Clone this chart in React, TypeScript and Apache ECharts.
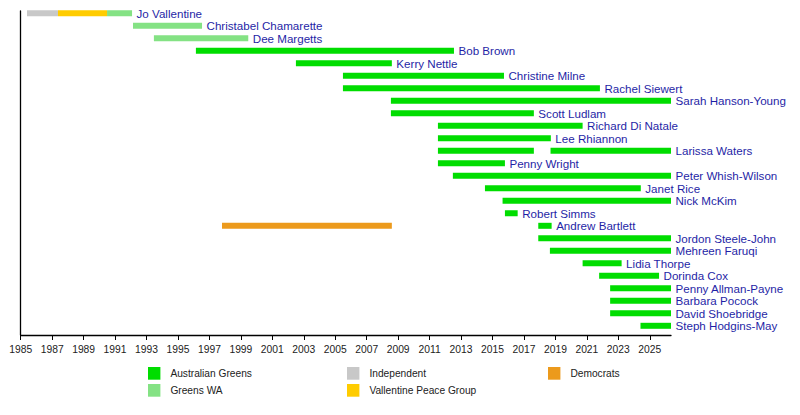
import React, { useEffect, useRef } from "react";
import * as echarts from "echarts";

// Rows (top to bottom)
const senators = [
  "Jo Vallentine",
  "Christabel Chamarette",
  "Dee Margetts",
  "Bob Brown",
  "Kerry Nettle",
  "Christine Milne",
  "Rachel Siewert",
  "Sarah Hanson-Young",
  "Scott Ludlam",
  "Richard Di Natale",
  "Lee Rhiannon",
  "Larissa Waters",
  "Penny Wright",
  "Peter Whish-Wilson",
  "Janet Rice",
  "Nick McKim",
  "Robert Simms",
  "Andrew Bartlett",
  "Jordon Steele-John",
  "Mehreen Faruqi",
  "Lidia Thorpe",
  "Dorinda Cox",
  "Penny Allman-Payne",
  "Barbara Pocock",
  "David Shoebridge",
  "Steph Hodgins-May",
];

const END = 2026.35;

// [row, start year, end year]
const australianGreens = [
  [3, 1996.14, 2012.55],
  [4, 2002.5, 2008.6],
  [5, 2005.49, 2015.73],
  [6, 2005.49, 2021.83],
  [7, 2008.54, END],
  [8, 2008.54, 2017.63],
  [9, 2011.53, 2020.73],
  [10, 2011.53, 2018.71],
  [11, 2011.53, 2017.63],
  [11, 2018.69, END],
  [12, 2011.53, 2015.79],
  [13, 2012.48, END],
  [14, 2014.52, 2024.43],
  [15, 2015.64, END],
  [16, 2015.79, 2016.6],
  [17, 2017.91, 2018.76],
  [18, 2017.91, END],
  [19, 2018.65, END],
  [20, 2020.73, 2023.21],
  [21, 2021.78, 2025.59],
  [22, 2022.48, END],
  [23, 2022.48, END],
  [24, 2022.48, END],
  [25, 2024.41, END],
];
const greensWA = [
  [0, 1990.49, 1992.08],
  [1, 1992.14, 1996.53],
  [2, 1993.47, 1999.47],
];
const independent = [[0, 1985.4, 1987.37]];
const vallentinePeaceGroup = [[0, 1987.37, 1990.49]];
const democrats = [[17, 1997.8, 2008.6]];

const yearTicks = [
  1985, 1987, 1989, 1991, 1993, 1995, 1997, 1999, 2001, 2003, 2005, 2007,
  2009, 2011, 2013, 2015, 2017, 2019, 2021, 2023, 2025,
];

const parties = [
  { name: "Australian Greens", color: "#00dd00", data: australianGreens, left: 148, top: 367 },
  { name: "Greens WA", color: "#84e284", data: greensWA, left: 148, top: 384 },
  { name: "Independent", color: "#c8c8c8", data: independent, left: 347, top: 367 },
  { name: "Vallentine Peace Group", color: "#ffcc00", data: vallentinePeaceGroup, left: 347, top: 384 },
  { name: "Democrats", color: "#ec9a1c", data: democrats, left: 548, top: 367 },
];

const FONT = "'Liberation Sans', Arial, sans-serif";

export default function App() {
  const ref = useRef<HTMLDivElement>(null);

  useEffect(() => {
    if (!ref.current) return;
    const chart = echarts.init(ref.current, null, { renderer: "svg" });

    const rowEnd = senators.map((_, i) => {
      let m = -Infinity;
      parties.forEach((p) =>
        p.data.forEach((d) => {
          if (d[0] === i && d[2] > m) m = d[2];
        })
      );
      return m;
    });

    const barSeries = parties.map((p) => ({
      type: "custom",
      name: p.name,
      itemStyle: { color: p.color },
      encode: { x: [1, 2], y: 0 },
      data: p.data,
      renderItem: (params: any, api: any) => {
        const s = api.coord([api.value(1), api.value(0)]);
        const e = api.coord([api.value(2), api.value(0)]);
        const h = 6;
        return {
          type: "rect",
          shape: { x: s[0], y: s[1] - h / 2, width: e[0] - s[0], height: h },
          style: { fill: p.color },
        };
      },
    }));

    const labelSeries = {
      type: "custom",
      name: "labels",
      encode: { x: 1, y: 0 },
      data: senators.map((_, i) => [i, rowEnd[i]]),
      renderItem: (params: any, api: any) => {
        const c = api.coord([api.value(1), api.value(0)]);
        return {
          type: "text",
          x: c[0] + 4.5,
          y: c[1],
          style: {
            text: senators[params.dataIndex],
            fill: "#1f1fa6",
            fontSize: 11.6,
            fontFamily: FONT,
            align: "left",
            verticalAlign: "middle",
          },
        };
      },
    };

    chart.setOption({
      animation: false,
      backgroundColor: "#ffffff",
      grid: { left: 20.7, top: 11, width: 650.3, height: 324 },
      xAxis: {
        type: "value",
        min: 1985,
        max: END,
        splitLine: { show: false },
        axisLine: { show: true, onZero: false, lineStyle: { color: "#000", width: 1.3 } },
        axisTick: {
          show: true,
          length: 5,
          customValues: yearTicks,
          lineStyle: { color: "#000", width: 1 },
        },
        axisLabel: {
          customValues: yearTicks,
          formatter: (v: number) => String(v),
          fontSize: 10.3,
          fontFamily: FONT,
          color: "#222",
          margin: 9.5,
        },
      },
      yAxis: {
        type: "value",
        inverse: true,
        min: -0.184,
        max: 25.736,
        splitLine: { show: false },
        axisLine: { show: true, onZero: false, lineStyle: { color: "#000", width: 1.3 } },
        axisTick: { show: false },
        axisLabel: { show: false },
      },
      legend: parties.map((p) => ({
        data: [{ name: p.name, icon: "rect" }],
        left: p.left,
        top: p.top,
        padding: 0,
        itemWidth: 12.4,
        itemHeight: 12.7,
        selectedMode: false,
        textStyle: {
          fontSize: 10.2,
          fontFamily: FONT,
          color: "#222",
          padding: [3, 0, 0, 5],
        },
      })),
      series: [...barSeries, labelSeries],
    });

    return () => chart.dispose();
  }, []);

  return (
    <div
      ref={ref}
      style={{ position: "fixed", left: 0, top: 0, width: 800, height: 415, background: "#fff" }}
    />
  );
}
